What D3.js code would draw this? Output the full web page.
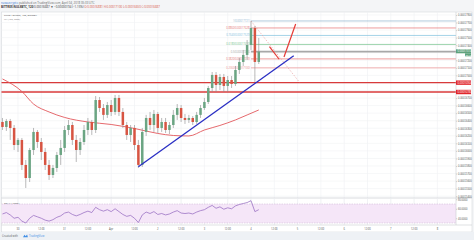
<!DOCTYPE html>
<html>
<head>
<meta charset="utf-8">
<script src="https://cdn.jsdelivr.net/npm/d3@7"></script>
<style>
  body { margin: 0; background: #f4f5f7; }
  svg { display: block; font-family: "Open Sans", "Liberation Sans", Arial, sans-serif; }
</style>
</head>
<body>
<svg id="chart" width="474" height="240"></svg>
<script>
// candle data, prices in satoshi (1e-8 BTC), 2h candles
const opens  = [16383,16317,16396,16304,16078,16145,15814,15641,16012,16251,16118,15986,15814,15681,15774,15946,16039,16277,16343,16145,16012,16118,16277,16383,16277,16674,16568,16477,16608,16516,16701,16516,16343,16211,16304,16078,15814,16251,16436,16343,16489,16304,16383,16277,16343,16477,16568,16436,16410,16436,16383,16477,16568,16648,16833,17006,16873,16979,16860,16939,16886,17072,17178,17271,17403,17628,17178];
const highs  = [16436,16423,16423,16343,16171,16171,15880,16039,16304,16277,16171,16039,15880,15814,15986,16145,16330,16410,16383,16211,16171,16343,16436,16410,16727,16714,16621,16648,16674,16741,16741,16568,16383,16343,16343,16145,16304,16477,16516,16542,16516,16436,16436,16383,16542,16621,16608,16489,16477,16462,16516,16608,16701,16860,17045,17045,17019,17019,16992,16992,17125,17231,17337,17469,17721,17655,17496];
const lows   = [16277,16264,16145,16012,15986,15747,15509,15588,15946,16039,15880,15747,15615,15641,15721,15814,15986,16211,16078,15853,15946,16078,16211,16211,16237,16516,16410,16436,16462,16477,16462,16304,16145,16118,16012,15774,15787,16198,16277,16251,16237,16251,16237,16224,16304,16410,16383,16357,16370,16343,16357,16436,16542,16621,16780,16780,16807,16780,16780,16833,16860,17019,17125,17204,17337,16913,17151];
const closes = [16317,16396,16304,16078,16145,15814,15641,16012,16251,16118,15986,15814,15681,15774,15946,16039,16277,16343,16145,16012,16118,16277,16383,16277,16674,16568,16477,16608,16516,16701,16516,16343,16211,16304,16078,15814,16251,16436,16343,16489,16304,16383,16277,16343,16477,16568,16436,16410,16436,16383,16477,16568,16648,16833,17006,16873,16979,16860,16939,16886,17072,17178,17271,17403,17628,17178,17314];
const rsi    = [49,52,47,40,42,34,30,40,46,43,40,36,34,37,42,45,51,53,48,45,48,52,55,52,63,58,55,58,54,60,54,48,44,46,40,31,47,53,50,54,48,50,47,49,53,56,51,50,51,49,53,56,58,63,67,61,64,59,62,60,66,69,71,73,77,54,58];
const candleTimes = d3.utcHour.range(Date.UTC(2018,2,29,16), Date.UTC(2018,3,4,5), 2);

// MA(100) read at some candles
const maIdx  = [0,5,8,12,16,22,28,34,40,44,48,52,56,60,63,66];
const maVals = [16953,16787,16621,16516,16443,16383,16350,16297,16231,16204,16198,16277,16337,16410,16476,16542];

// drawings
const hLevels = [16904, 16780];
const fibStart = Date.UTC(2018,3,4,0), fibEnd = Date.UTC(2018,3,5,1);
const fibHigh = 17721, fibLow = 16908;
const fibLevels = [1, 0.886, 0.764, 0.618, 0.5, 0.382, 0.236];
const fibColors = ["#8fb3cf", "#e57373", "#7fc0de", "#73c38a", "#a8a8a8", "#e57373", "#ef8f8f"];
const trendTimes = [Date.UTC(2018,3,1,14), Date.UTC(2018,3,4,22)];
const trendPrices = [15790, 17261];
const arrowTimes = [Date.UTC(2018,3,4,9,30), Date.UTC(2018,3,4,14,30), Date.UTC(2018,3,4,17), Date.UTC(2018,3,4,23)];
const arrowPrices = [17380, 17214, 17244, 17681];

const timeLabels = ["30","12:00","31","12:00","Apr","12:00","2","12:00","3","12:00","4","12:00","5","12:00","6","12:00","7","12:00","8"];
const priceTicks = d3.range(15400, 17801, 100);
const rsiTicks = [40, 60, 80];

const paneL = 1.5, paneR = 456, paneT = 12, paneB = 198, rsiB = 225, axR = 472;

const svg = d3.select("#chart");
const x = d3.scaleUtc().domain([Date.UTC(2018,2,30), Date.UTC(2018,3,8)]).range([18, 437.4]);
const y = d3.scaleLinear().domain([15400, 17800]).range([196.2, 15]);
const yR = d3.scaleLinear().domain([30, 70]).range([223, 204]);
const fmt = d => d3.format(".8f")(d / 1e8);
const last = closes[closes.length - 1];

// background panels
svg.append("rect").attr("x", paneL).attr("y", paneT).attr("width", axR - paneL).attr("height", rsiB + 7 - paneT).attr("fill", "#fff");
svg.append("rect").attr("x", paneL).attr("y", paneT).attr("width", axR - paneL).attr("height", rsiB + 7 - paneT)
  .attr("fill", "none").attr("stroke", "#d6d9de").attr("stroke-width", 0.6);

// grid
const timeTicks = d3.utcHour.range(Date.UTC(2018,2,30), Date.UTC(2018,3,8,1), 12);
svg.append("g").selectAll("line").data(timeTicks).enter().append("line")
  .attr("x1", d => x(d)).attr("x2", d => x(d)).attr("y1", paneT).attr("y2", rsiB)
  .attr("stroke", "#eef0f3").attr("stroke-width", 0.6);
svg.append("g").selectAll("line").data(priceTicks).enter().append("line")
  .attr("x1", paneL).attr("x2", paneR).attr("y1", d => y(d)).attr("y2", d => y(d))
  .attr("stroke", "#f0f2f4").attr("stroke-width", 0.6);

// header
const head = svg.append("g").attr("font-size", 2.9);
const h1 = head.append("text").attr("x", 1).attr("y", 4).attr("fill", "#666");
h1.append("tspan").attr("fill", "#3a7bd5").text("nawazcrypto");
h1.append("tspan").text(" published on TradingView.com, April 04, 2018 05:33 UTC");
const h2 = head.append("text").attr("x", 1).attr("y", 8.3).attr("fill", "#333").attr("font-weight", "bold");
h2.append("tspan").text("BITTREX:NULSBTC, 120 ");
h2.append("tspan").attr("font-weight", "normal").text("0.00016687 ▼ −0.00000194 (−1.15%) ");
h2.append("tspan").attr("font-weight", "normal").attr("fill", "#d75442")
  .text("O:0.00016881 H:0.00017100 L:0.00016650 C:0.00016687");

svg.append("text").attr("x", 4).attr("y", 16.3).attr("font-size", 2.5).attr("fill", "#444").text("NULS / Bitcoin, 120, BITTREX");
svg.append("text").attr("x", 4).attr("y", 19.8).attr("font-size", 2.3).attr("fill", "#777").text("MA (100, close)");

// horizontal red levels
svg.append("g").selectAll("line").data(hLevels).enter().append("line")
  .attr("x1", paneL).attr("x2", paneR).attr("y1", d => y(d)).attr("y2", d => y(d))
  .attr("stroke", "#d83a3a").attr("stroke-width", 1.4);

// MA
const maLine = d3.line().x(d => x(candleTimes[d[0]])).y(d => y(d[1])).curve(d3.curveMonotoneX);
svg.append("path").datum(maIdx.map((d, i) => [d, maVals[i]]))
  .attr("d", maLine).attr("fill", "none").attr("stroke", "#e2585c").attr("stroke-width", 0.9);

// fib retracement
const fibY = l => y(fibLow + (fibHigh - fibLow) * l);
const fib = svg.append("g");
fib.selectAll("line").data(fibLevels).enter().append("line")
  .attr("x1", x(fibStart)).attr("x2", paneR).attr("y1", fibY).attr("y2", fibY)
  .attr("stroke", (d, i) => fibColors[i]).attr("stroke-width", (d) => d === 0.5 ? 1.6 : 0.7);
fib.selectAll("text").data(fibLevels).enter().append("text")
  .attr("x", x(fibStart) - 1).attr("y", fibY).attr("dy", "0.35em")
  .attr("text-anchor", "end").attr("font-size", 2.6).attr("fill", (d, i) => fibColors[i])
  .text(d => (d === 1 || d === 0.5 ? d3.format("")(d) : d3.format(".4f")(d)) + "(" + fmt(fibLow + (fibHigh - fibLow) * d) + ")");
svg.append("line")
  .attr("x1", x(fibStart)).attr("y1", y(fibHigh)).attr("x2", x(fibEnd)).attr("y2", y(fibLow))
  .attr("stroke", "#e9a3a3").attr("stroke-width", 0.7).attr("stroke-dasharray", "1.5,1.5");

// candles
const candles = svg.append("g");
const up = i => closes[i] >= opens[i];
candles.selectAll("line").data(candleTimes).enter().append("line")
  .attr("x1", d => x(d)).attr("x2", d => x(d))
  .attr("y1", (d, i) => y(highs[i])).attr("y2", (d, i) => y(lows[i]))
  .attr("stroke", "#8a8a8c").attr("stroke-width", 0.6);
candles.selectAll("rect").data(candleTimes).enter().append("rect")
  .attr("x", d => x(d) - 1.25).attr("width", 2.5)
  .attr("y", (d, i) => y(Math.max(opens[i], closes[i])))
  .attr("height", (d, i) => Math.max(0.6, Math.abs(y(opens[i]) - y(closes[i]))))
  .attr("fill", (d, i) => up(i) ? "#6ba583" : "#d75442");

// blue trend line
svg.append("line")
  .attr("x1", x(trendTimes[0])).attr("y1", y(trendPrices[0]))
  .attr("x2", x(trendTimes[1])).attr("y2", y(trendPrices[1]))
  .attr("stroke", "#2a2fc4").attr("stroke-width", 1.3);

// red V drawing
[[0, 1], [2, 3]].forEach(p => {
  svg.append("line")
    .attr("x1", x(arrowTimes[p[0]])).attr("y1", y(arrowPrices[p[0]]))
    .attr("x2", x(arrowTimes[p[1]])).attr("y2", y(arrowPrices[p[1]]))
    .attr("stroke", "#e53935").attr("stroke-width", 1.2);
});

// RSI pane
svg.append("line").attr("x1", paneL).attr("x2", axR).attr("y1", paneB).attr("y2", paneB).attr("stroke", "#c9ccd1").attr("stroke-width", 0.7);
svg.append("g").selectAll("line").data(timeTicks).enter().append("line")
  .attr("x1", d => x(d)).attr("x2", d => x(d)).attr("y1", paneB).attr("y2", rsiB)
  .attr("stroke", "#eef0f3").attr("stroke-width", 0.6);
svg.append("rect").attr("x", paneL).attr("width", paneR - paneL)
  .attr("y", yR(70)).attr("height", yR(30) - yR(70)).attr("fill", "#f5e6f8");
[70, 30].forEach(v => svg.append("line").attr("x1", paneL).attr("x2", paneR).attr("y1", yR(v)).attr("y2", yR(v))
  .attr("stroke", "#c9b3d3").attr("stroke-width", 0.5).attr("stroke-dasharray", "1.5,1"));
svg.append("text").attr("x", 4).attr("y", 203.5).attr("font-size", 2.4).attr("fill", "#555").text("RSI (14, close)");
svg.append("path").datum(rsi)
  .attr("d", d3.line().x((d, i) => x(candleTimes[i])).y(d => yR(d)))
  .attr("fill", "none").attr("stroke", "#8f63bd").attr("stroke-width", 0.7);

// price axis (ticks hidden under the coloured price tags)
const tagPrices = hLevels.concat([last]);
const shownTicks = priceTicks.filter(t => tagPrices.every(v => Math.abs(y(t) - y(v)) > 4));
svg.append("line").attr("x1", paneR).attr("x2", paneR).attr("y1", paneT).attr("y2", rsiB).attr("stroke", "#c9ccd1").attr("stroke-width", 0.6);
const yAxis = svg.append("g").attr("transform", `translate(${paneR},0)`)
  .call(d3.axisRight(y).tickValues(shownTicks).tickSize(1.2).tickPadding(0.8).tickFormat(fmt));
yAxis.select(".domain").remove();
yAxis.selectAll("line").attr("stroke", "#999").attr("stroke-width", 0.4);
yAxis.selectAll("text").attr("font-size", 2.6).attr("fill", "#555").attr("font-family", null);

const rAxis = svg.append("g").attr("transform", `translate(${paneR},0)`)
  .call(d3.axisRight(yR).tickValues(rsiTicks).tickSize(1.2).tickPadding(0.8).tickFormat(d3.format(".4f")));
rAxis.select(".domain").remove();
rAxis.selectAll("line").attr("stroke", "#999").attr("stroke-width", 0.4);
rAxis.selectAll("text").attr("font-size", 2.6).attr("fill", "#555").attr("font-family", null);

// axis price labels
const tags = svg.append("g");
hLevels.forEach(v => {
  tags.append("rect").attr("x", paneR).attr("y", y(v) - 2.2).attr("width", 15).attr("height", 4.4).attr("fill", "#e0262a");
  tags.append("text").attr("x", paneR + 1.5).attr("y", y(v)).attr("dy", "0.35em").attr("font-size", 2.6).attr("fill", "#fff").text(fmt(v));
});
tags.append("rect").attr("x", paneR).attr("y", y(last) - 2.4).attr("width", 15).attr("height", 4).attr("fill", "#5fa27c");
tags.append("rect").attr("x", paneR + 9).attr("y", y(last) + 1.6).attr("width", 6).attr("height", 3).attr("fill", "#5fa27c");
tags.append("text").attr("x", paneR + 1.5).attr("y", y(last) - 0.4).attr("dy", "0.35em").attr("font-size", 2.6).attr("fill", "#fff").text(fmt(last));
tags.append("text").attr("x", paneR + 9.6).attr("y", y(last) + 3.1).attr("dy", "0.35em").attr("font-size", 2.2).attr("fill", "#fff").text("26:49");

// time axis
svg.append("line").attr("x1", paneL).attr("x2", axR).attr("y1", rsiB).attr("y2", rsiB).attr("stroke", "#c9ccd1").attr("stroke-width", 0.6);
svg.append("g").selectAll("text").data(timeTicks).enter().append("text")
  .attr("x", d => x(d)).attr("y", 229.6).attr("text-anchor", "middle")
  .attr("font-size", 2.6).attr("fill", "#555").text((d, i) => timeLabels[i]);

// footer
svg.append("rect").attr("x", 0).attr("y", 232).attr("width", 474).attr("height", 8).attr("fill", "#eef1f5");
svg.append("text").attr("x", 2).attr("y", 236.8).attr("font-size", 2.7).attr("fill", "#555").text("Created with");
svg.append("path").attr("d", "M23,237.2 l1.5,-2.4 l1.2,1.4 l1.4,-1.8 l0.8,2.8 z").attr("fill", "#3f8ee6");
svg.append("text").attr("x", 29).attr("y", 236.8).attr("font-size", 2.7).attr("fill", "#3f8ee6").text("TradingView");
</script>
</body>
</html>
